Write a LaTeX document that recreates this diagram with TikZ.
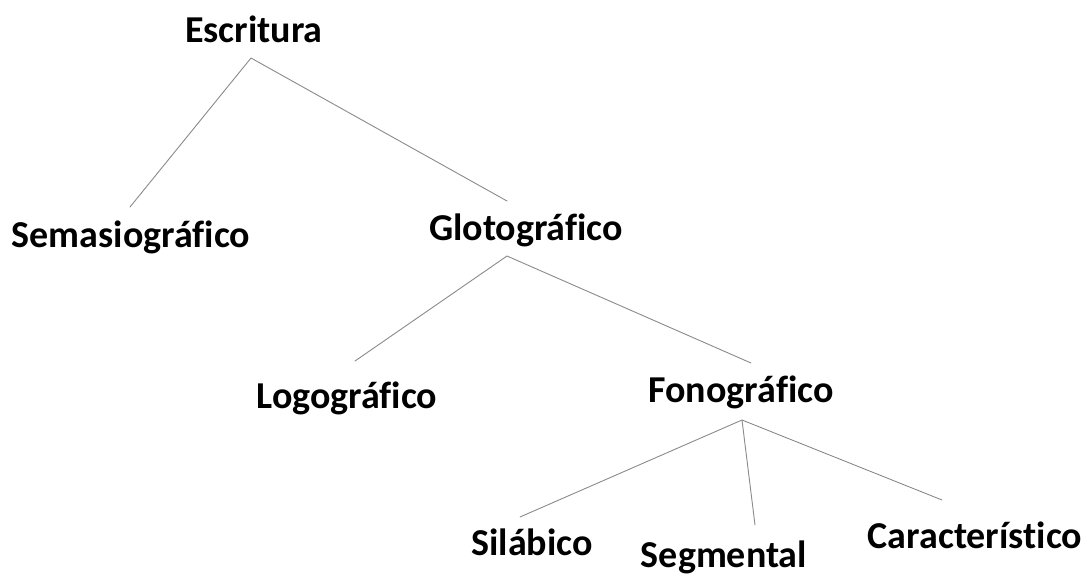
\documentclass[tikz,border=0pt]{standalone}
\usepackage{fontspec}
\setmainfont{Carlito}[Ligatures=NoCommon]
\begin{document}
\begin{tikzpicture}[x=1pt,y=-1pt,line cap=round,line join=round]
\definecolor{branchline}{HTML}{8A8A8A}
\tikzset{
  term/.style={anchor=base,inner sep=0pt,font=\fontsize{38}{44}\selectfont\bfseries},
  branch/.style={draw=branchline,line width=0.9pt}
}
\useasboundingbox (0,0) rectangle (1088,579);

% labels of the tree
\node[term] (escritura) at (254,42) {Escritura};
\node[term] (semasio) at (131,247) {Semasiográfico};
\node[term] (gloto) at (526,240) {Glotográfico};
\node[term] (logo) at (347,408) {Logográfico};
\node[term] (fono) at (741,402) {Fonográfico};
\node[term] (silabico) at (532,555) {Silábico};
\node[term] (segmental) at (724,567) {Segmental};
\node[term] (caract) at (975,548) {Característico};

% fork points and line ends
\coordinate (escritura-f) at (251,58);
\coordinate (semasio-t) at (130,207);
\coordinate (gloto-t) at (507,201);
\coordinate (gloto-f) at (507,256);
\coordinate (logo-t) at (355,361);
\coordinate (fono-t) at (751,363);
\coordinate (fono-f) at (742,420);
\coordinate (silabico-t) at (520,517);
\coordinate (segmental-t) at (755,525);
\coordinate (caract-t) at (942,500);

\draw[branch] (semasio-t) -- (escritura-f) -- (gloto-t);
\draw[branch] (logo-t) -- (gloto-f) -- (fono-t);
\draw[branch] (silabico-t) -- (fono-f) -- (caract-t);
\draw[branch] (fono-f) -- (segmental-t);
\end{tikzpicture}
\end{document}
